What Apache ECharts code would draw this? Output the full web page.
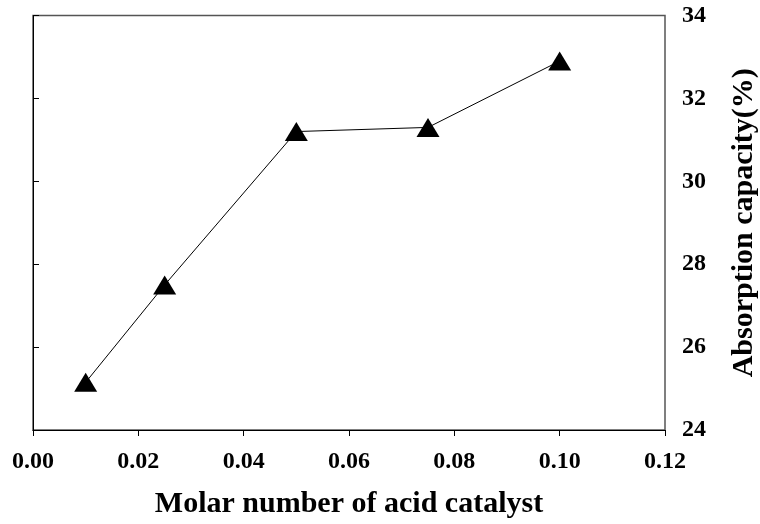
<!DOCTYPE html>
<html>
<head>
<meta charset="utf-8">
<script src="https://cdn.jsdelivr.net/npm/echarts@6/dist/echarts.min.js"></script>
<style>html,body{margin:0;padding:0;background:#fff}#c{width:760px;height:524px}</style>
</head>
<body>
<div id="c"></div>
<script>
var xValues = [0.01, 0.025, 0.05, 0.075, 0.10];
var yValues = [25.15, 27.5, 31.2, 31.3, 32.9];
var xName = 'Molar number of acid catalyst';
var yName = 'Absorption capacity(%)';

var font = '"Liberation Serif", "Times New Roman", serif';
var chart = echarts.init(document.getElementById('c'), null, {renderer: 'canvas'});
chart.setOption({
  animation: false,
  backgroundColor: '#fff',
  grid: {left: 33, right: 95, top: 15.5, bottom: 94, show: true, borderColor: '#555', borderWidth: 1.5,
    containLabel: false, outerBoundsMode: 'none'},
  xAxis: {
    type: 'value', min: 0, max: 0.12, interval: 0.02,
    name: xName, nameLocation: 'middle', nameGap: 59,
    nameTextStyle: {fontFamily: font, fontWeight: 'bold', fontSize: 30, color: '#000'},
    axisLine: {show: true, lineStyle: {color: '#000', width: 1}},
    axisTick: {show: true, inside: false, length: 6, lineStyle: {color: '#000'}},
    splitLine: {show: false},
    axisLabel: {fontFamily: font, fontWeight: 'bold', fontSize: 24, color: '#000', margin: 20,
      formatter: function (v) { return v.toFixed(2); }}
  },
  yAxis: {
    type: 'value', position: 'right', min: 24, max: 34, interval: 2,
    name: yName, nameLocation: 'middle', nameGap: 64, nameRotate: 90,
    nameTextStyle: {fontFamily: font, fontWeight: 'bold', fontSize: 30, color: '#000'},
    axisLine: {show: true, lineStyle: {color: '#000', width: 1}},
    axisTick: {show: true, inside: false, length: 6, lineStyle: {color: '#000'}},
    splitLine: {show: false},
    axisLabel: {fontFamily: font, fontWeight: 'bold', fontSize: 24, color: '#000', margin: 17}
  },
  series: [{
    type: 'line',
    data: xValues.map(function (x, i) { return [x, yValues[i]]; }),
    symbol: 'triangle', symbolSize: [23, 19],
    lineStyle: {color: '#000', width: 1},
    itemStyle: {color: '#000'}
  }]
});
</script>
</body>
</html>
